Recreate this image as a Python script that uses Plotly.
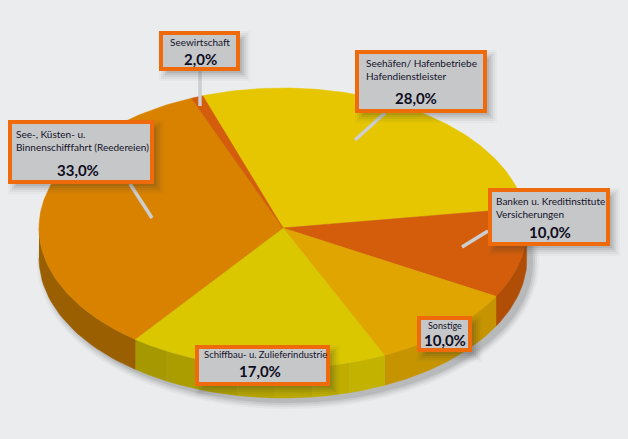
import numpy as np
import plotly.graph_objects as go

# --- data ---
categories = ["Seehäfen/ Hafenbetriebe<br>Hafendienstleister",
              "Banken u. Kreditinstitute<br>Versicherungen",
              "Sonstige",
              "Schiffbau- u. Zulieferindustrie",
              "See-, Küsten- u.<br>Binnenschifffahrt (Reedereien)",
              "Seewirtschaft"]
percent_labels = ["28,0%", "10,0%", "10,0%", "17,0%", "33,0%", "2,0%"]
# slice sizes as drawn in the picture (%)
drawn_shares = [28.05, 10.4, 10.05, 17.2, 33.5, 0.8]
top_colors = ["#E6C600", "#D35D0A", "#E0A500", "#DAC700", "#D98200", "#D35D0A"]
side_colors = [["#B89C00"], ["#B04E08"], ["#C59400"],
               ["#A69800", "#AB9C00", "#B0A100", "#B5A500", "#BAA900", "#BFAE00", "#C4B200"],
               ["#9A5F00"], ["#B04E08"]]

# --- geometry / style ---
W, H = 628, 439
CX, CY, RX, RY, DEPTH = 283, 228, 244, 140, 30
START = 109.2
BG = "#EAECEE"
BOX_FILL, BOX_LINE, TEXT = "#C6C7C9", "#EE6A0A", "#14122A"
FONT = "Lato"

boxes = [
    dict(b=(355, 50, 487, 113), tx=365, ty=56, px=416, py=98, a="left", fs=10),
    dict(b=(488, 188, 610, 246), tx=495, ty=194, px=550, py=232, a="left", fs=10),
    dict(b=(417, 316, 472, 352), tx=444.5, ty=318.5, px=444.5, py=340, a="center", fs=9),
    dict(b=(195, 345, 330, 386), tx=203, ty=348, px=260, py=371, a="left", fs=9.5),
    dict(b=(8, 120, 154, 184), tx=15, ty=127, px=78, py=170, a="left", fs=10),
    dict(b=(159, 31, 240, 71), tx=168.5, ty=35, px=200, py=59, a="left", fs=10),
]
leaders = [((385, 113), (355, 140)), ((488, 231), (462, 247)),
           None, None,
           ((130, 184), (152, 218)), ((200, 71), (200, 106))]


def ell(t, dy=0):
    r = np.radians(t)
    return CX + RX * np.cos(r), CY - RY * np.sin(r) + dy


fig = go.Figure()
edges = START - np.cumsum([0] + drawn_shares) * 3.6

for i in range(len(drawn_shares)):
    t1, t2 = edges[i], edges[i + 1]
    a, b = min(t1, 0), max(t2, -180)
    if a <= b:
        continue
    bands = np.linspace(b, a, len(side_colors[i]) + 1)
    for j, c in enumerate(side_colors[i]):
        ts = np.linspace(bands[j], bands[j + 1], 30)
        xt, yt = ell(ts)
        xb, yb = ell(ts[::-1], DEPTH)
        fig.add_trace(go.Scatter(x=np.r_[xt, xb], y=np.r_[yt, yb], mode="lines", fill="toself",
                                 fillcolor=c, line=dict(color=c, width=0.5), hoverinfo="skip"))

for i in range(len(drawn_shares)):
    ts = np.linspace(edges[i], edges[i + 1], 120)
    xt, yt = ell(ts)
    c = top_colors[i]
    fig.add_trace(go.Scatter(x=np.r_[CX, xt, CX], y=np.r_[CY, yt, CY], mode="lines", fill="toself",
                             fillcolor=c, line=dict(color=c, width=0.5), hoverinfo="skip"))

shapes = []
for grow, alpha in [(7, .04), (5, .06), (3, .08), (1, .10)]:
    shapes.append(dict(type="circle", layer="below", xref="x", yref="y", line_width=0,
                       fillcolor=f"rgba(40,40,40,{alpha})",
                       x0=CX - RX - grow + 5, x1=CX + RX + grow + 5,
                       y0=CY - RY + DEPTH - grow + 4, y1=CY + RY + DEPTH + grow + 4))

for seg in leaders:
    if seg:
        (x0, y0), (x1, y1) = seg
        shapes.append(dict(type="line", layer="above", xref="x", yref="y", x0=x0, y0=y0, x1=x1, y1=y1,
                           line=dict(color="#CDCED0", width=3.5)))

annotations = []
for name, pct, s in zip(categories, percent_labels, boxes):
    x0, y0, x1, y1 = s["b"]
    for grow, alpha in [(6, .03), (4, .05), (2, .07), (0, .09), (-2, .10)]:
        shapes.append(dict(type="rect", layer="above", xref="x", yref="y", line_width=0,
                           fillcolor=f"rgba(50,50,50,{alpha})",
                           x0=x0 + 6 - grow, x1=x1 + 4 + grow, y0=y0 + 6 - grow, y1=y1 + 4 + grow))
    shapes.append(dict(type="rect", layer="above", xref="x", yref="y",
                       x0=x0 + 2, x1=x1 - 2, y0=y0 + 2, y1=y1 - 2,
                       fillcolor=BOX_FILL, line=dict(color=BOX_LINE, width=4)))
    annotations.append(dict(x=s["tx"], y=s["ty"], xref="x", yref="y", text=name, showarrow=False,
                            xanchor=s["a"], yanchor="top", align="left", borderpad=0,
                            font=dict(family=FONT, size=s["fs"], color=TEXT)))
    annotations.append(dict(x=s["px"], y=s["py"], xref="x", yref="y", text=f"<b>{pct}</b>", showarrow=False,
                            xanchor="center", yanchor="middle", borderpad=0,
                            font=dict(family=FONT, size=15, color="#0E0E1E")))

fig.update_layout(
    width=W, height=H, margin=dict(l=0, r=0, t=0, b=0),
    paper_bgcolor=BG, plot_bgcolor=BG, showlegend=False,
    xaxis=dict(range=[0, W], visible=False, fixedrange=True),
    yaxis=dict(range=[H, 0], visible=False, fixedrange=True),
    shapes=shapes, annotations=annotations,
)
fig.write_html("out.html", config={"displayModeBar": False},
               post_script="document.documentElement.style.margin='0';"
                           "document.body.style.margin='0';"
                           "document.body.style.overflow='hidden';"
                           "document.body.style.background='#EAECEE';")
